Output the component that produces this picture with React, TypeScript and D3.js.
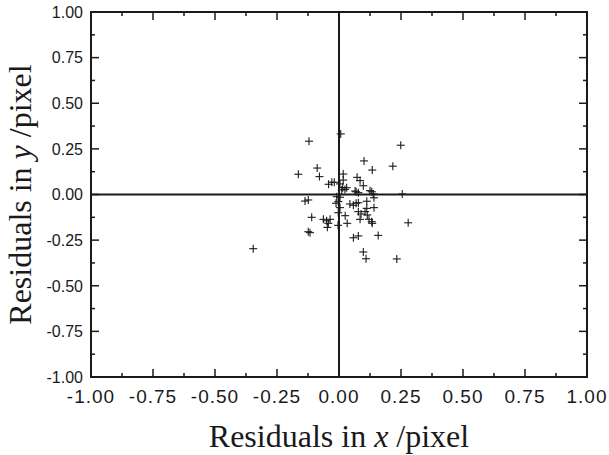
import React from "react";
import * as d3 from "d3";

const xResiduals: number[] = [
  0.007, -0.121, 0.249, 0.101, 0.217, -0.088, 0.134, -0.164, -0.079, 0.017,
  0.073, 0.085, 0.004, -0.042, -0.029, -0.019, 0.098, 0.069, 0.078, 0.125,
  0.132, 0.138, 0.141, 0.255, 0.004, -0.137, -0.124, -0.012, 0.044, 0.058,
  0.069, 0.078, 0.112, 0.141, 0.004, 0.078, 0.089, 0.105, 0.114, -0.003,
  0.025, -0.110, -0.063, -0.050, -0.036, -0.043, -0.047, -0.004, 0.033, 0.085,
  0.121, 0.134, 0.132, 0.279, -0.124, -0.117, 0.058, 0.078, 0.158, -0.346,
  0.098, 0.109, 0.233, 0.015, 0.024, 0.031, 0.017, 0.065, 0.112, -0.009,
  -0.003, 0.011,
];
const yResiduals: number[] = [
  0.332, 0.292, 0.270, 0.184, 0.155, 0.145, 0.134, 0.111, 0.098, 0.112,
  0.094, 0.076, 0.058, 0.056, 0.067, 0.067, 0.048, 0.015, 0.010, 0.021,
  0.015, 0.003, -0.018, 0.003, -0.015, -0.036, -0.030, -0.048, -0.052, -0.059,
  -0.048, -0.045, -0.037, -0.072, -0.072, -0.094, -0.107, -0.094, -0.112, -0.100,
  -0.116, -0.125, -0.136, -0.144, -0.136, -0.158, -0.180, -0.169, -0.158, -0.136,
  -0.136, -0.158, -0.149, -0.155, -0.204, -0.209, -0.237, -0.227, -0.224, -0.297,
  -0.315, -0.352, -0.353, 0.037, 0.028, 0.037, 0.079, 0.019, -0.076, -0.012,
  -0.039, 0.025,
];
const majorTicks: number[] = [-1, -0.75, -0.5, -0.25, 0, 0.25, 0.5, 0.75, 1];
const minorTicks: number[] = [-0.875, -0.625, -0.375, -0.125, 0.125, 0.375, 0.625, 0.875];
const xTitle = ["Residuals in ", "x", " /pixel"];
const yTitle = ["Residuals in ", "y", " /pixel"];

const W = 609;
const H = 455;
const L = 91, R = 587, T = 12, B = 377;

export default function App() {
  const x = d3.scaleLinear().domain([-1, 1]).range([L, R]);
  const y = d3.scaleLinear().domain([-1, 1]).range([B, T]);
  const ink = "#1a1a1a";
  const fmt = (v: number) => d3.format(".2f")(v).replace("\u2212", "-");
  const pts = xResiduals.map((v, i) => [v, yResiduals[i]]);
  const arm = 4;
  return (
    <svg width={W} height={H} style={{ position: "absolute", left: 0, top: 0, background: "#fff" }}>
      <rect x={0} y={0} width={W} height={H} fill="#fff" />
      {/* zero lines */}
      <line x1={x(0)} x2={x(0)} y1={T} y2={B} stroke={ink} strokeWidth={2} />
      <line x1={L} x2={R} y1={y(0)} y2={y(0)} stroke={ink} strokeWidth={2} />
      {/* ticks */}
      {majorTicks.map((t) => (
        <g key={"M" + t} stroke={ink} strokeWidth={1.5}>
          <line x1={x(t)} x2={x(t)} y1={B} y2={B - 8} />
          <line x1={x(t)} x2={x(t)} y1={T} y2={T + 8} />
          <line x1={L} x2={L + 8} y1={y(t)} y2={y(t)} />
          <line x1={R} x2={R - 8} y1={y(t)} y2={y(t)} />
        </g>
      ))}
      {minorTicks.map((t) => (
        <g key={"m" + t} stroke={ink} strokeWidth={1.5}>
          <line x1={x(t)} x2={x(t)} y1={B} y2={B - 4} />
          <line x1={x(t)} x2={x(t)} y1={T} y2={T + 4} />
          <line x1={L} x2={L + 4} y1={y(t)} y2={y(t)} />
          <line x1={R} x2={R - 4} y1={y(t)} y2={y(t)} />
        </g>
      ))}
      {/* frame */}
      <rect x={L} y={T} width={R - L} height={B - T} fill="none" stroke={ink} strokeWidth={2} />
      {/* points */}
      {pts.map(([a, b], i) => (
        <g key={i} stroke={ink} strokeWidth={1.1}>
          <line x1={x(a) - arm} x2={x(a) + arm} y1={y(b)} y2={y(b)} />
          <line x1={x(a)} x2={x(a)} y1={y(b) - arm} y2={y(b) + arm} />
        </g>
      ))}
      {/* tick labels */}
      {majorTicks.map((t) => (
        <text key={"yl" + t} x={L - 8} y={y(t)} dy="0.36em" textAnchor="end"
          fontFamily="Liberation Sans, Arial, sans-serif" fontSize={16} fill={ink}>
          {fmt(t)}
        </text>
      ))}
      {majorTicks.map((t) => (
        <text key={"xl" + t} x={x(t)} y={403} textAnchor="middle" letterSpacing={1}
          fontFamily="Liberation Sans, Arial, sans-serif" fontSize={19} fill={ink}>
          {fmt(t)}
        </text>
      ))}
      {/* axis titles */}
      <text x={(L + R) / 2} y={447} textAnchor="middle" fontFamily="Liberation Serif, Times New Roman, serif"
        fontSize={32} fill={ink}>
        {xTitle[0]}<tspan fontStyle="italic">{xTitle[1]}</tspan>{xTitle[2]}
      </text>
      <text transform={`translate(31,${(T + B) / 2}) rotate(-90)`} textAnchor="middle"
        fontFamily="Liberation Serif, Times New Roman, serif" fontSize={32} fill={ink}>
        {yTitle[0]}<tspan fontStyle="italic">{yTitle[1]}</tspan>{yTitle[2]}
      </text>
    </svg>
  );
}
